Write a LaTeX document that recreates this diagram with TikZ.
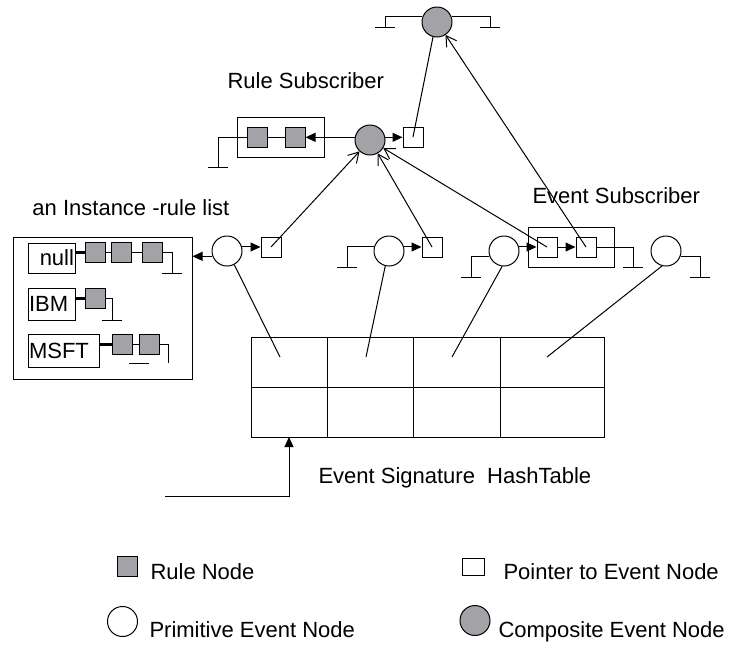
\documentclass[tikz,border=0pt]{standalone}
\usepackage{fontspec}
\setmainfont{Liberation Sans}
\usepackage{xcolor}
\definecolor{RuleGray}{HTML}{A3A3A7}
\usetikzlibrary{arrows.meta}
\tikzset{
	prim/.style={circle, draw, fill=white, minimum size=15pt, inner sep=0pt},
	comp/.style={prim, fill=RuleGray},
	rulenode/.style={rectangle, draw, fill=RuleGray, minimum size=10pt, inner sep=0pt},
	ptr/.style={rectangle, draw, fill=white, minimum size=10pt, inner sep=0pt},
	keybox/.style={rectangle, draw, minimum height=15pt, inner xsep=0.5pt, inner ysep=0pt},
	lbl/.style={inner sep=0pt, anchor=base west},
	fwd/.style={-{Triangle[length=5pt,width=4.5pt]}},
	bwd/.style={-{Straight Barb[length=5pt,width=6pt]}},
	gnd/.pic={\draw (-10,0) -- (10,0);}
}

\begin{document}
\begin{tikzpicture}[x=0.5pt,y=-0.5pt,line width=0.5pt,font=\fontsize{11}{13}\selectfont]
		\useasboundingbox (0,0) rectangle (732,644);
		
		% composite event on top
		\node[comp] (T) at (437,22) {};
		\coordinate (gT1) at (385,27);
		\coordinate (gT2) at (490,27);
		\draw (T.160) -| (gT1); \pic at (gT1) {gnd};
		\draw (T.20) -| (gT2); \pic at (gT2) {gnd};
		
		% rule subscriber
		\node[lbl] (rslabel) at (227,88) {Rule Subscriber};
		\node[comp] (M) at (370,140) {};
		\node[draw, minimum width=43.5pt, minimum height=20pt, inner sep=0pt] (rsbox) at (280.5,137) {};
		\node[rulenode] (r1) at (257,137) {};
		\node[rulenode] (r2) at (295,137) {};
		\node[ptr] (pM) at (413,137) {};
		\coordinate (gR) at (218,167);
		\draw (r1) -- (r2);
		\draw (r1.west) -| (gR); \pic at (gR) {gnd};
		\draw[fwd] (M.170) -- (r2.east |- M.170);
		\draw[fwd] (M.10) -- (pM.west |- M.10);
		\draw (pM.center) -- (T.255);
		
		% instance-rule list
		\node[lbl] (illabel) at (32,215) {an Instance -rule list};
		\node[draw, minimum width=89.5pt, minimum height=71pt, inner sep=0pt] (ilist) at (102.5,308) {};
		\node[keybox, text width=22.5pt, align=right] (knull) at (51.5,258) {null};
		\node[keybox, text width=22.5pt, align=left, minimum height=16pt] (kibm) at (51.5,304) {IBM};
		\node[keybox, text width=34.5pt, align=left, minimum height=16.5pt] (kmsft) at (63.5,350.5) {MSFT};
		
		\node[rulenode] (n1) at (95.5,252) {};
		\node[rulenode] (n2) at (121.5,252) {};
		\node[rulenode] (n3) at (152,252) {};
		\coordinate (gn) at (172,273);
		\draw[line width=1.5pt] (knull.east |- n1) -- (n1.west);
		\draw (n1) -- (n2) -- (n3);
		\draw (n3.east) -| (gn); \pic at (gn) {gnd};
		
		\node[rulenode] (i1) at (95,298) {};
		\coordinate (gi) at (112,320);
		\draw[line width=1.5pt] (kibm.east |- i1) -- (i1.west);
		\draw (i1.east) -| (gi); \pic at (gi) {gnd};
		
		\node[rulenode] (m1) at (122.5,344) {};
		\node[rulenode] (m2) at (149.5,344) {};
		\coordinate (gm) at (168,363);
		\coordinate (gmbar) at (139,363);
		\draw[line width=1.5pt] (kmsft.east |- m1) -- (m1.west);
		\draw (m1) -- (m2);
		\draw (m2.east) -| (gm); \pic at (gmbar) {gnd};
		
		% primitive events
		\node[prim] (P1) at (227,251) {};
		\node[prim] (P2) at (389,251) {};
		\node[prim] (P3) at (504,251) {};
		\node[prim] (P4) at (666,251) {};
		\node[ptr] (p1) at (271,247) {};
		\node[ptr] (p2) at (432,247) {};
		
		% event subscriber
		\node[lbl] (eslabel) at (532,203) {Event Subscriber};
		\node[draw, minimum width=43pt, minimum height=20pt, inner sep=0pt] (esbox) at (571,247) {};
		\node[ptr] (e1) at (547,247) {};
		\node[ptr] (e2) at (586,247) {};
		
		\coordinate (g2) at (347,267);
		\coordinate (g3) at (471,277);
		\coordinate (g4) at (633,267);
		\coordinate (g5) at (700,277);
		\draw[fwd] (P1.200) -- (ilist.east |- P1.200);
		\draw[fwd] (P1.15) -- (p1.west |- P1.15);
		\draw[fwd] (P2.15) -- (p2.west |- P2.15);
		\draw[fwd] (P3.15) -- (e1.west |- P3.15);
		\draw[fwd] (e1) -- (e2);
		\draw (P2.165) -| (g2); \pic at (g2) {gnd};
		\draw (P3.200) -| (g3); \pic at (g3) {gnd};
		\draw (e2.east) -| (g4); \pic at (g4) {gnd};
		\draw (P4.340) -| (g5); \pic at (g5) {gnd};
		
		\draw[bwd] (p1.center) -- (M);
		\draw[bwd] (p2.center) -- (M);
		\draw[bwd] (e1.center) -- (M);
		\draw[bwd] (e2.center) -- (T);
		
		% event signature hashtable
		\node[draw, minimum width=176.5pt, minimum height=50pt, inner sep=0pt] (hash) at (427.5,387) {};
		\draw (hash.west) -- (hash.east);
		\foreach \x in {327,413,500}
			\draw (\x,0 |- hash.north) -- (\x,0 |- hash.south);
		\coordinate (h1) at (280,357);
		\coordinate (h2) at (366,357);
		\coordinate (h3) at (452,357);
		\coordinate (h4) at (547,357);
		\draw (P1.298) -- (h1);
		\draw (P2.256) -- (h2);
		\draw (P3.263) -- (h3);
		\draw (P4.255) -- (h4);
		\coordinate (hin) at (165,496);
		\coordinate (hb) at (289,437);
		\draw[fwd] (hin) -| (hb);
		\node[lbl] (hlabel) at (318,483) {Event Signature\ \ HashTable};
		
		% legend
		\node[rulenode] (lgRule) at (127.5,566) {};
		\node[lbl] at (150,579) {Rule Node};
		\node[ptr, minimum width=11pt, minimum height=8.5pt] (lgPtr) at (473,566.5) {};
		\node[lbl] at (503,579) {Pointer to Event Node};
		\node[prim] (lgPrim) at (122.5,621.5) {};
		\node[lbl] at (149,637) {Primitive Event Node};
		\node[comp] (lgComp) at (475,620.5) {};
		\node[lbl] at (498,637) {Composite Event Node};
		
	\end{tikzpicture}
\end{document}
